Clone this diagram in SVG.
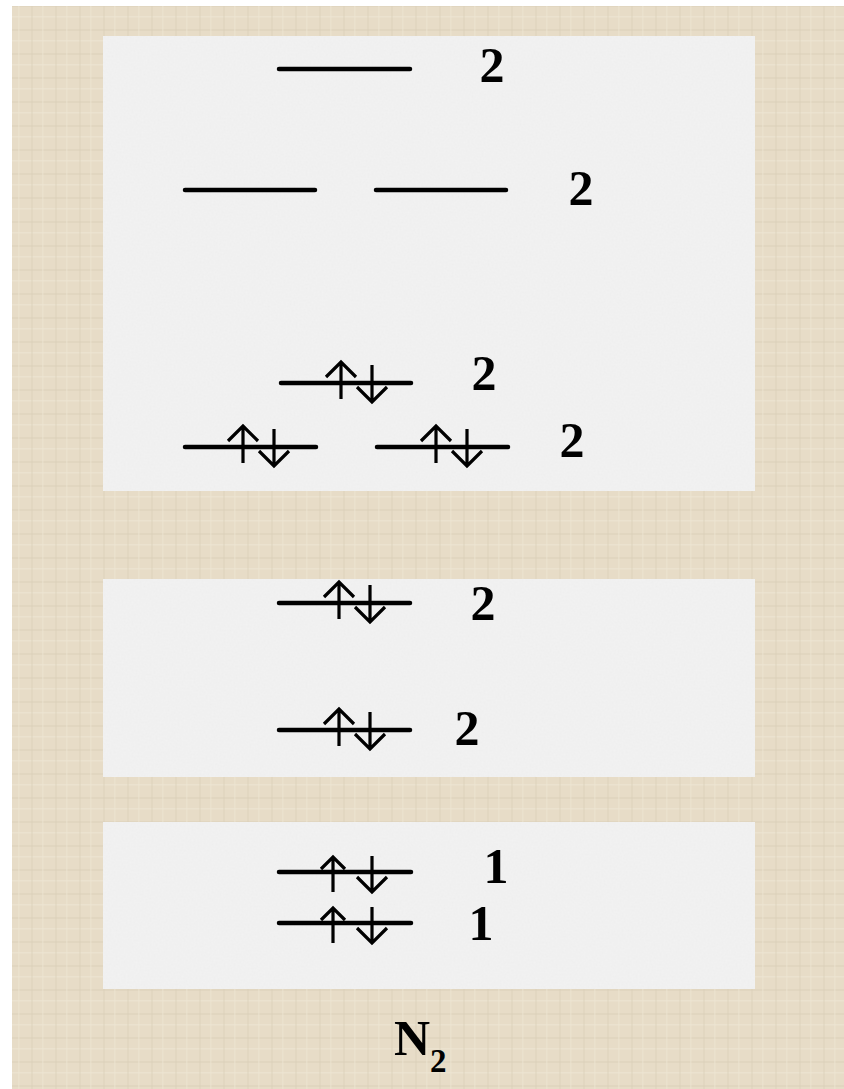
<svg xmlns="http://www.w3.org/2000/svg" xmlns:xlink="http://www.w3.org/1999/xlink" width="844" height="1089" viewBox="0 0 844 1089">
<style>
.lvl{stroke:#000;stroke-width:4.5;stroke-linecap:round;fill:none}
.arr{stroke:#000;stroke-width:3.2;fill:none;stroke-linecap:butt;stroke-linejoin:miter}
.num{font-family:"Liberation Serif","Times New Roman",serif;font-weight:bold;font-size:50px;fill:#000;text-anchor:middle}
.panel{fill:#f3f3f3}
</style>
<defs>
<filter id="noise" x="0" y="0" width="100%" height="100%">
<feTurbulence type="fractalNoise" baseFrequency="0.5" numOctaves="2" seed="3" result="t"/>
<feColorMatrix in="t" type="matrix" values="0 0 0 0 0.6  0 0 0 0 0.6  0 0 0 0 0.6  0 0 0 0.12 0" result="n"/>
<feComposite in="n" in2="SourceGraphic" operator="in" result="m"/>
<feMerge><feMergeNode in="SourceGraphic"/><feMergeNode in="m"/></feMerge>
</filter>
<pattern id="linen" width="24" height="24" patternUnits="userSpaceOnUse">
<rect width="24" height="24" fill="#e7dcc7"/>
<rect x="0" y="5" width="24" height="2" fill="#dcd0ba" opacity="0.5"/>
<rect x="0" y="16" width="24" height="1.5" fill="#efe6d4" opacity="0.6"/>
<rect x="7" y="0" width="2" height="24" fill="#dacfb9" opacity="0.4"/>
<rect x="18" y="0" width="1.5" height="24" fill="#eee5d3" opacity="0.5"/>
</pattern>
<g id="pair">
<path class="arr" d="M59,16 V-21 M44,-6 L59,-21 L74,-6"/>
<path class="arr" d="M90,-18 V19 M75,4 L90,19 L105,4"/>
</g>
<g id="pair2">
<path class="arr" d="M54,20 V-15 M42,-3 L54,-15 L66,-3"/>
<path class="arr" d="M93,-16 V20 M78,5 L93,20 L108,5"/>
</g>
</defs>
<rect width="844" height="1089" fill="#ffffff"/>
<rect x="12" y="6" width="832" height="1083" fill="url(#linen)"/>
<g id="panels" filter="url(#noise)">
<rect class="panel" x="103" y="36" width="652" height="455"/>
<rect class="panel" x="103" y="579" width="652" height="198"/>
<rect class="panel" x="103" y="822" width="652" height="167"/>
</g>
<g id="connectors"/>
<g id="level-top">
<line class="lvl" x1="279" y1="69" x2="410" y2="69"/>
<text class="num" x="492" y="82">2</text>
</g>
<g id="level-pi-star">
<line class="lvl" x1="185" y1="190" x2="315" y2="190"/>
<line class="lvl" x1="376" y1="190" x2="506" y2="190"/>
<text class="num" x="581" y="205">2</text>
</g>
<g id="level-sigma-2p">
<line class="lvl" x1="281" y1="383" x2="411" y2="383"/>
<use xlink:href="#pair" x="282" y="383"/>
<text class="num" x="484" y="390">2</text>
</g>
<g id="level-pi-2p">
<line class="lvl" x1="185" y1="447" x2="316" y2="447"/>
<use xlink:href="#pair" x="184" y="447"/>
<line class="lvl" x1="377" y1="447" x2="508" y2="447"/>
<use xlink:href="#pair" x="377" y="447"/>
<text class="num" x="572" y="457">2</text>
</g>
<g id="level-sigma-2s-star">
<line class="lvl" x1="279" y1="603" x2="410" y2="603"/>
<use xlink:href="#pair" x="280" y="603"/>
<text class="num" x="483" y="620">2</text>
</g>
<g id="level-sigma-2s">
<line class="lvl" x1="279" y1="730" x2="410" y2="730"/>
<use xlink:href="#pair" x="280" y="730"/>
<text class="num" x="467" y="745">2</text>
</g>
<g id="level-1s-star">
<line class="lvl" x1="279" y1="872" x2="411" y2="872"/>
<use xlink:href="#pair2" x="279" y="872"/>
<text class="num" x="496" y="883">1</text>
</g>
<g id="level-1s">
<line class="lvl" x1="279" y1="923" x2="411" y2="923"/>
<use xlink:href="#pair2" x="279" y="923"/>
<text class="num" x="481" y="940">1</text>
</g>
<g id="title">
<text x="394" y="1055" font-family="Liberation Serif, 'Times New Roman', serif" font-weight="bold" font-size="50" fill="#000">N<tspan font-size="33" dy="17">2</tspan></text>
</g>
</svg>
